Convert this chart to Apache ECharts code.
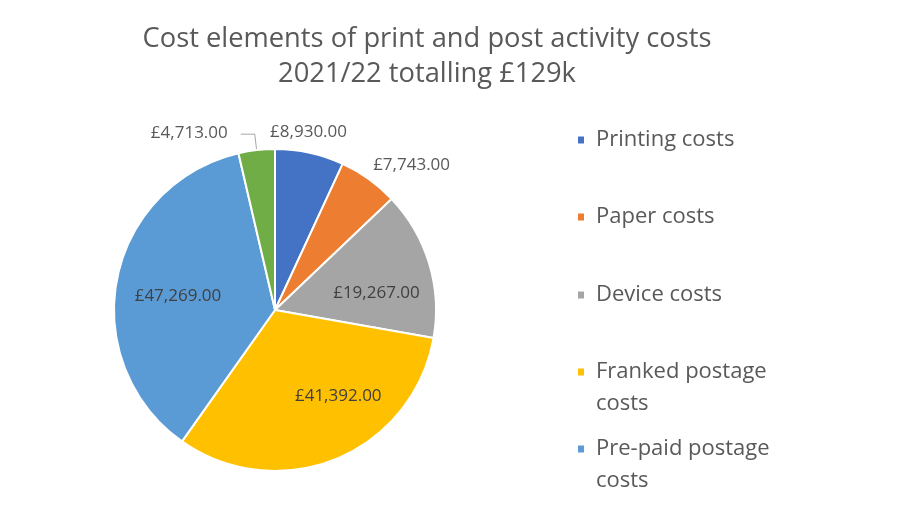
<!DOCTYPE html>
<html>
<head>
<meta charset="utf-8">
<script src="https://cdn.jsdelivr.net/npm/echarts@6/dist/echarts.min.js"></script>
<style>html,body{margin:0;padding:0;background:#fff}#c{width:922px;height:519px}</style>
</head>
<body>
<div id="c"></div>
<script>
// ---- data ----
const titleText = 'Cost elements of print and post activity costs\n2021/22 totalling £129k';
const categories = ['Printing costs', 'Paper costs', 'Device costs', 'Franked postage costs', 'Pre-paid postage costs', 'Other costs'];
const legendLabels = ['Printing costs', 'Paper costs', 'Device costs', 'Franked postage\ncosts', 'Pre-paid postage\ncosts'];
const values = [8930, 7743, 19267, 41392, 47269, 4713];
const colors = ['#4472C4', '#ED7D31', '#A5A5A5', '#FFC000', '#5B9BD5', '#70AD47'];

// ---- styling / layout ----
const FONT = 'Open Sans';
const outsideIdx = [0, 1, 5];
const outShift = {0: [-62, -5], 1: [-24, -1], 5: [-8, -1]};
const inShift = {2: [0, 14], 3: [23, -12], 4: [7, 7]};
const legendTops = [124, 201, 279, 356, 433];
const twoLinePath = 'path://M0,0L8,0L8,9L0,9Z M0,41L0.05,41L0.05,41.05Z';

function fmt(v) {
  return '£' + v.toLocaleString('en-GB', {minimumFractionDigits: 2, maximumFractionDigits: 2});
}

const mainData = categories.map((n, i) => ({
  name: n, value: values[i],
  itemStyle: {color: colors[i]},
  label: {show: outsideIdx.indexOf(i) >= 0},
  labelLine: {show: i === 5, length: 16, length2: 14}
}));
const overlayData = categories.map((n, i) => ({
  name: n, value: values[i],
  label: {show: outsideIdx.indexOf(i) < 0}
}));

const legends = categories.slice(0, 5).map((n, i) => {
  const two = legendLabels[i].indexOf('\n') >= 0;
  return {
    data: [n],
    orient: 'vertical',
    left: 576, top: legendTops[i], padding: 0,
    icon: two ? twoLinePath : 'rect',
    itemWidth: 8, itemHeight: two ? 41 : 9,
    selectedMode: false,
    formatter: () => legendLabels[i],
    textStyle: {fontFamily: FONT, fontSize: 22, color: '#595959', lineHeight: 32, padding: [0, 0, 0, 6]}
  };
});

const shiftFn = table => p => { const s = table[p.dataIndex]; return s ? {dx: s[0], dy: s[1]} : {}; };

const chart = echarts.init(document.getElementById('c'), null, {renderer: 'canvas'});
chart.setOption({
  backgroundColor: '#ffffff',
  animation: false,
  title: {
    text: titleText, left: 422, top: 17, textAlign: 'center',
    textStyle: {fontFamily: FONT, fontSize: 27.3, fontWeight: 'normal', color: '#595959', lineHeight: 35}
  },
  legend: legends,
  series: [
    {
      type: 'pie', center: [275, 310], radius: 161, startAngle: 90, clockwise: true,
      avoidLabelOverlap: false,
      itemStyle: {borderColor: '#ffffff', borderWidth: 2},
      label: {position: 'outside', formatter: p => fmt(p.value), fontFamily: FONT, fontSize: 17, color: '#595959', distanceToLabelLine: 5},
      labelLine: {lineStyle: {color: '#a6a6a6', width: 1}},
      labelLayout: shiftFn(outShift),
      emphasis: {disabled: true},
      data: mainData
    },
    {
      type: 'pie', center: [275, 310], radius: [45, 161], startAngle: 90, clockwise: true,
      silent: true, avoidLabelOverlap: false,
      itemStyle: {color: 'rgba(0,0,0,0)', borderWidth: 0},
      label: {position: 'inside', formatter: p => fmt(p.value), fontFamily: FONT, fontSize: 17, color: '#404040'},
      labelLine: {show: false},
      labelLayout: shiftFn(inShift),
      emphasis: {disabled: true},
      data: overlayData
    }
  ]
});
</script>
</body>
</html>
